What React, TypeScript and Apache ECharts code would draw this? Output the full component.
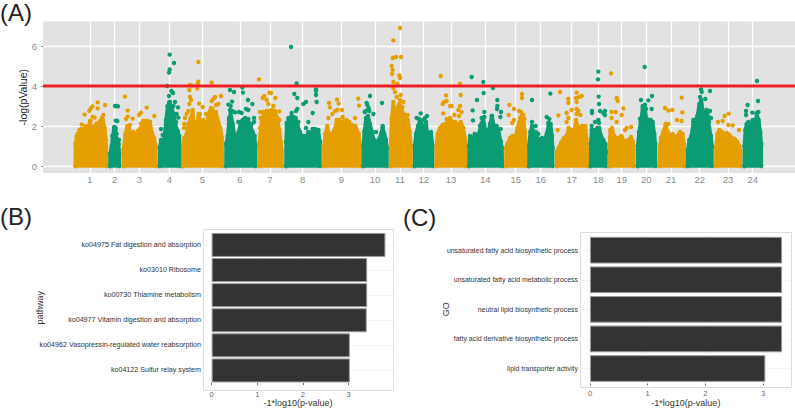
import React, { useEffect, useRef } from "react";
import * as echarts from "echarts";

type P = [number, number];

const ORANGE = "#E69F00";
const GREEN = "#0C9C74";

const chrTicks = [270, 344, 418, 508, 607, 720, 810, 908, 1024, 1125, 1200, 1271, 1353, 1456, 1547, 1622, 1715, 1795, 1865, 1939, 2013, 2099, 2184, 2258];
const chrNames = ["1", "2", "3", "4", "5", "6", "7", "8", "9", "10", "11", "12", "13", "14", "15", "16", "17", "18", "19", "20", "21", "22", "23", "24"];

const chr1Top: P[] = [[226,0],[226,1.1],[230,1.5],[238,1.6],[244,1.85],[250,1.6],[256,2.0],[262,1.75],[270,2.25],[276,1.8],[282,1.95],[290,2.1],[296,1.75],[303,2.2],[308,2.35],[314,1.9],[318,1.3],[320,0.6],[320,0]];
const chr1Dots: P[] = [[293,3.18],[315,3.05],[277,2.98],[272,2.87],[293,2.88],[268,2.75],[254,2.57],[310,2.55],[306,2.43],[277,2.47],[284,2.42],[245,2.08],[272,2.27],[300,2.25],[290,2.13],[238,1.8],[262,1.88],[233,1.6],[305,2.3]];
const chr2Top: P[] = [[330,0],[330,0.6],[335,1.0],[338,1.5],[342,1.9],[347,1.9],[349,1.4],[352,1.3],[356,1.1],[358,0.6],[358,0]];
const chr2Dots: P[] = [[345,3.0],[350,3.0],[354,2.98],[347,2.27],[352,2.25],[343,1.95],[345,1.8],[350,1.6],[337,1.5],[357,1.3],[352,1.1],[335,0.75]];
const chr3Top: P[] = [[370,0],[370,0.8],[376,1.6],[382,2.0],[388,1.85],[393,1.4],[400,1.7],[408,1.5],[414,1.75],[422,1.9],[430,2.2],[440,2.25],[450,2.2],[456,1.65],[462,1.4],[467,1.0],[468,0]];
const chr3Dots: P[] = [[375,3.47],[383,2.77],[423,2.67],[440,2.92],[383,2.47],[398,2.37],[463,2.5],[417,2.55],[378,2.35],[390,2.05],[430,2.27],[445,2.22],[423,2.13],[438,2.1]];
const chr4Top: P[] = [[479,0],[479,0.9],[483,1.3],[490,1.1],[494,1.6],[498,2.3],[503,3.0],[508,3.2],[515,2.85],[522,2.6],[526,2.1],[533,1.75],[538,1.5],[540,0.9],[540,0]];
const chr4Dots: P[] = [[509,5.57],[522,5.15],[509,4.83],[507,4.67],[502,4.0],[514,3.75],[519,3.65],[507,3.5],[510,3.2],[525,3.2],[520,3.0],[503,3.0],[534,2.93],[483,1.85],[488,1.55],[535,2.42],[530,2.6],[528,2.2]];
const chr5Top: P[] = [[549,0],[549,0.9],[553,1.4],[560,1.6],[565,2.1],[572,2.4],[578,2.7],[583,1.9],[590,2.1],[596,2.6],[603,1.9],[610,2.3],[618,2.0],[626,2.6],[633,2.9],[640,2.6],[648,2.7],[655,2.2],[661,1.9],[666,1.4],[667,0]];
const chr5Dots: P[] = [[595,5.2],[595,4.22],[593,4.12],[570,4.05],[635,4.17],[575,4.03],[568,3.8],[592,3.87],[570,3.45],[573,3.3],[568,3.1],[597,3.12],[608,2.95],[663,3.5],[645,3.45],[640,3.35],[635,3.25],[655,3.1],[648,3.05],[638,2.85],[630,2.75],[555,2.4],[560,2.6],[565,2.75],[578,2.8],[600,2.6],[618,2.6],[553,2.1],[552,1.9]];
const chr6Top: P[] = [[678,0],[678,1.1],[683,1.5],[687,2.3],[692,2.7],[698,2.1],[703,1.6],[710,1.35],[716,1.7],[722,2.2],[728,2.3],[736,2.4],[744,2.3],[752,2.0],[758,1.7],[764,1.5],[766,1.0],[766,0]];
const chr6Dots: P[] = [[690,3.8],[702,3.7],[727,3.92],[729,3.67],[696,3.22],[744,3.3],[757,3.1],[685,3.07],[692,3.0],[690,2.8],[697,2.75],[705,2.68],[717,2.7],[725,2.65],[738,2.85],[745,2.8],[687,2.4],[762,2.4],[715,2.2],[730,2.3],[745,2.35],[755,2.1],[762,2.2]];
const chr7Top: P[] = [[777,0],[777,1.1],[781,1.6],[787,2.4],[793,2.7],[800,2.75],[808,2.75],[815,2.8],[825,2.7],[832,2.4],[838,1.8],[843,1.2],[846,0.7],[846,0]];
const chr7Dots: P[] = [[777,4.33],[808,3.67],[813,3.65],[793,3.5],[826,3.4],[788,3.4],[800,3.3],[805,3.1],[820,3.0],[780,2.7],[790,2.7],[803,2.7],[838,2.73],[825,2.75],[782,2.4],[785,2.2],[838,2.3],[780,1.9]];
const chr8Top: P[] = [[858,0],[858,1.2],[860,2.0],[866,2.35],[873,2.45],[880,2.45],[887,2.4],[893,2.0],[900,1.7],[905,1.5],[912,1.5],[918,1.4],[925,1.7],[932,1.5],[938,1.85],[945,1.85],[955,1.8],[960,1.2],[960,0]];
const chr8Dots: P[] = [[873,5.95],[890,4.13],[883,3.6],[892,3.4],[918,3.2],[910,3.1],[875,2.65],[892,2.85],[888,2.75],[948,3.83],[948,3.55],[950,3.2],[938,2.65],[925,2.2],[948,3.75],[860,2.15],[865,2.4],[882,2.4],[895,2.2],[918,1.9]];
const chr9Top: P[] = [[972,0],[972,1.0],[976,1.6],[982,2.0],[988,1.5],[995,1.6],[1002,1.75],[1010,2.2],[1018,2.3],[1026,2.0],[1032,2.25],[1040,2.1],[1048,2.0],[1056,2.05],[1066,2.0],[1076,1.6],[1080,1.1],[1080,0]];
const chr9Dots: P[] = [[987,3.15],[1011,3.32],[1016,3.12],[990,2.93],[1005,2.75],[1012,2.8],[1026,2.8],[997,2.6],[985,2.4],[1075,3.37],[1077,3.02],[1065,2.4],[1010,2.3],[1028,2.45],[1040,2.3],[1048,2.2]];
const chr10Top: P[] = [[1090,0],[1090,1.0],[1093,1.7],[1098,2.4],[1104,2.5],[1110,2.1],[1116,1.7],[1122,1.3],[1130,1.2],[1136,1.3],[1143,1.6],[1148,1.95],[1153,1.6],[1158,1.3],[1161,0.9],[1161,0]];
const chr10Dots: P[] = [[1110,3.5],[1100,3.15],[1102,3.05],[1106,2.9],[1098,2.75],[1108,2.75],[1094,2.7],[1120,2.6],[1146,3.15],[1105,2.3],[1128,1.7],[1148,2.0]];
const chr11Top: P[] = [[1172,0],[1172,1.0],[1175,2.4],[1180,3.2],[1186,2.6],[1192,2.8],[1198,3.1],[1204,2.9],[1210,2.6],[1218,2.5],[1224,2.3],[1229,1.7],[1233,1.0],[1233,0]];
const chr11Dots: P[] = [[1200,6.9],[1180,6.28],[1178,5.4],[1188,5.45],[1203,5.45],[1175,5.0],[1178,4.8],[1198,4.53],[1200,4.4],[1176,4.6],[1180,4.2],[1192,4.1],[1180,3.9],[1185,3.7],[1202,3.55],[1190,3.45],[1200,3.3],[1210,3.2],[1195,2.95],[1207,2.95],[1223,2.55],[1217,2.45]];
const chr12Top: P[] = [[1244,0],[1244,1.0],[1248,1.6],[1254,2.0],[1260,2.3],[1266,1.9],[1272,1.85],[1278,2.2],[1283,1.5],[1288,1.5],[1293,1.7],[1298,1.0],[1298,0]];
const chr12Dots: P[] = [[1262,2.63],[1250,2.4],[1281,2.5],[1275,2.4],[1257,2.35],[1270,2.3],[1265,2.1]];
const chr13Top: P[] = [[1309,0],[1309,1.0],[1313,1.6],[1320,1.9],[1328,2.05],[1336,2.1],[1344,2.2],[1352,2.3],[1360,2.15],[1366,2.2],[1374,1.95],[1382,2.2],[1390,1.9],[1395,1.4],[1397,0.9],[1397,0]];
const chr13Dots: P[] = [[1322,4.5],[1380,4.12],[1382,3.55],[1338,3.53],[1332,3.2],[1340,3.25],[1328,3.1],[1350,3.0],[1355,3.0],[1380,3.0],[1330,2.63],[1375,2.8],[1385,2.7],[1363,2.55],[1377,2.5],[1350,2.4],[1340,2.35]];
const chr14Top: P[] = [[1407,0],[1407,1.0],[1410,1.5],[1416,1.2],[1424,1.6],[1430,1.2],[1436,1.6],[1444,2.1],[1450,2.4],[1456,1.8],[1462,1.5],[1470,2.1],[1476,2.5],[1482,2.0],[1490,2.0],[1497,1.6],[1503,1.2],[1506,0.9],[1507,0]];
const chr14Dots: P[] = [[1415,4.45],[1450,4.2],[1479,3.9],[1451,3.65],[1431,3.3],[1492,3.3],[1418,2.78],[1492,3.0],[1491,2.85],[1453,2.7],[1503,2.7],[1501,2.45],[1419,2.28],[1445,2.4],[1453,2.45],[1475,2.5],[1502,1.85],[1440,2.0]];
const chr15Top: P[] = [[1518,0],[1518,0.9],[1522,1.1],[1530,1.4],[1538,1.5],[1546,1.4],[1552,1.9],[1558,2.2],[1565,2.5],[1571,2.2],[1575,1.7],[1578,1.0],[1578,0]];
const chr15Dots: P[] = [[1566,3.6],[1566,3.4],[1528,3.05],[1542,2.85],[1557,2.75],[1563,2.7],[1526,2.55],[1570,2.55],[1542,2.3],[1560,2.4],[1573,2.35],[1537,2.15]];
const chr16Top: P[] = [[1587,0],[1587,1.0],[1591,1.7],[1596,2.0],[1602,1.6],[1608,1.7],[1614,1.35],[1620,1.2],[1626,1.4],[1634,1.3],[1640,1.6],[1646,2.1],[1652,2.1],[1656,1.5],[1658,0.9],[1658,0]];
const chr16Dots: P[] = [[1596,3.3],[1651,3.62],[1640,2.45],[1648,2.35],[1596,2.2],[1607,2.0],[1645,2.15],[1615,1.6]];
const chr17Top: P[] = [[1670,0],[1670,0.7],[1676,0.9],[1684,1.2],[1692,1.4],[1700,1.5],[1706,1.9],[1714,1.8],[1722,1.7],[1728,2.3],[1733,2.0],[1740,1.8],[1747,2.0],[1756,2.0],[1760,1.3],[1762,0.7],[1762,0]];
const chr17Dots: P[] = [[1680,3.7],[1730,3.67],[1705,3.35],[1745,3.5],[1737,3.45],[1728,3.4],[1730,3.2],[1705,3.15],[1715,2.8],[1730,2.85],[1735,2.75],[1675,2.53],[1700,2.65],[1705,2.4],[1741,2.55],[1673,1.8],[1700,2.2],[1730,2.6]];
const chr18Top: P[] = [[1772,0],[1772,1.1],[1775,1.8],[1781,1.8],[1786,1.5],[1792,1.9],[1798,1.9],[1803,1.5],[1810,1.3],[1816,1.1],[1818,0.7],[1818,0]];
const chr18Dots: P[] = [[1795,4.72],[1794,4.33],[1796,3.47],[1797,3.1],[1776,2.75],[1776,2.65],[1800,2.75],[1815,2.75],[1815,2.55],[1810,2.65],[1795,2.3],[1785,2.2],[1797,2.15],[1775,2.0]];
const chr19Top: P[] = [[1828,0],[1828,1.0],[1831,1.8],[1836,1.9],[1842,1.5],[1850,1.4],[1858,1.4],[1864,1.5],[1870,1.3],[1878,1.2],[1885,1.3],[1893,1.45],[1899,1.2],[1901,0.8],[1901,0]];
const chr19Dots: P[] = [[1833,4.63],[1850,3.4],[1853,3.25],[1870,2.88],[1835,2.7],[1847,2.7],[1865,2.55],[1835,2.4],[1850,2.2],[1880,1.9],[1893,1.95],[1875,1.8]];
const chr20Top: P[] = [[1913,0],[1913,1.0],[1917,1.7],[1922,2.2],[1928,2.9],[1934,3.0],[1939,2.4],[1945,2.1],[1952,2.3],[1958,2.2],[1963,1.6],[1966,1.1],[1967,0]];
const chr20Dots: P[] = [[1934,4.95],[1956,3.5],[1945,3.28],[1923,3.3],[1935,3.07],[1928,3.0],[1955,2.85],[1938,2.85],[1920,2.35],[1932,2.6],[1950,2.3]];
const chr21Top: P[] = [[1979,0],[1979,0.9],[1983,1.4],[1990,1.7],[1997,2.1],[2003,1.7],[2010,1.5],[2018,1.6],[2024,1.4],[2032,1.5],[2040,1.7],[2048,1.6],[2052,1.1],[2053,0]];
const chr21Dots: P[] = [[2045,3.42],[1995,2.9],[2005,2.77],[2017,2.8],[2047,2.68],[2045,2.25],[2031,2.3],[2005,2.1]];
const chr22Top: P[] = [[2063,0],[2063,0.8],[2068,1.3],[2074,1.5],[2080,2.2],[2086,2.0],[2092,2.5],[2098,3.1],[2104,3.3],[2110,2.6],[2116,2.4],[2122,2.6],[2128,1.9],[2133,1.5],[2136,1.0],[2136,0]];
const chr22Dots: P[] = [[2103,3.83],[2105,3.7],[2130,3.75],[2100,3.45],[2116,3.35],[2103,3.15],[2097,2.9],[2120,2.8],[2130,2.75],[2133,2.4],[2100,2.6],[2115,2.7],[2123,2.5],[2090,2.4],[2080,2.3],[2127,2.2]];
const chr23Top: P[] = [[2148,0],[2148,0.9],[2152,1.6],[2158,1.8],[2166,1.7],[2172,1.5],[2180,1.65],[2188,1.55],[2196,1.4],[2204,1.35],[2212,1.2],[2218,1.0],[2222,0.7],[2222,0]];
const chr23Dots: P[] = [[2186,2.62],[2174,2.5],[2154,2.2],[2168,2.25],[2198,2.03],[2217,1.8],[2185,2.05]];
const chr24Top: P[] = [[2233,0],[2233,1.0],[2236,1.8],[2240,2.1],[2246,1.6],[2252,2.0],[2258,2.3],[2264,1.9],[2270,2.6],[2276,2.3],[2281,1.7],[2284,1.1],[2284,0]];
const chr24Dots: P[] = [[2271,4.25],[2274,3.25],[2243,3.05],[2238,2.75],[2257,2.67],[2275,2.7],[2238,2.55],[2270,2.65],[2245,2.2],[2260,2.3],[2275,2.2]];

const massTops = [chr1Top, chr2Top, chr3Top, chr4Top, chr5Top, chr6Top, chr7Top, chr8Top, chr9Top, chr10Top, chr11Top, chr12Top, chr13Top, chr14Top, chr15Top, chr16Top, chr17Top, chr18Top, chr19Top, chr20Top, chr21Top, chr22Top, chr23Top, chr24Top];
const topDots = [chr1Dots, chr2Dots, chr3Dots, chr4Dots, chr5Dots, chr6Dots, chr7Dots, chr8Dots, chr9Dots, chr10Dots, chr11Dots, chr12Dots, chr13Dots, chr14Dots, chr15Dots, chr16Dots, chr17Dots, chr18Dots, chr19Dots, chr20Dots, chr21Dots, chr22Dots, chr23Dots, chr24Dots];

const yTicksA = [0, 2, 4, 6];
const threshold = 4;

const pathwayNames = ["ko04975 Fat digestion and absorption", "ko03010 Ribosome", "ko00730 Thiamine metabolism", "ko04977 Vitamin digestion and absorption", "ko04962 Vasopressin-regulated water reabsorption", "ko04122 Sulfur relay system"];
const pathwayValues = [3.81, 3.41, 3.41, 3.4, 3.03, 3.03];
const goNames = ["unsaturated fatty acid biosynthetic process", "unsaturated fatty acid metabolic process", "neutral lipid biosynthetic process", "fatty acid derivative biosynthetic process", "lipid transporter activity"];
const goValues = [3.33, 3.33, 3.33, 3.33, 3.04];
const barTicks = [0, 1, 2, 3];

const FONT = "Liberation Sans";

function barAxes(names: string[], title: string, catName: string, gridIndex: number, min: number, max: number, nameGapCat: number, nameGapVal: number, labelSize: number, tickMargin: number) {
  return {
    x: {
      type: "value", gridIndex, min, max,
      axisLine: { show: false },
      splitLine: { show: false },
      axisTick: { show: true, customValues: barTicks, length: 2, lineStyle: { color: "#666", width: 1 } },
      axisLabel: { customValues: barTicks, color: "#666", fontSize: 7.5, fontFamily: FONT, margin: tickMargin },
      name: title, nameLocation: "middle", nameGap: nameGapVal, nameMoveOverlap: false,
      nameTextStyle: { color: "#333", fontSize: 9, fontFamily: FONT },
    },
    y: {
      type: "category", gridIndex, data: names, inverse: true,
      axisLine: { show: false },
      splitLine: { show: false },
      axisTick: { show: true, alignWithLabel: true, length: 2, lineStyle: { color: "#444", width: 1 } },
      axisLabel: { color: "#333", fontSize: labelSize, fontFamily: FONT, margin: 2 },
      name: catName, nameLocation: "middle", nameGap: nameGapCat, nameMoveOverlap: false,
      nameTextStyle: { color: "#333", fontSize: 9, fontFamily: FONT },
    },
  };
}

function barSeries(names: string[], values: number[], axis: number, barWidth: number) {
  return {
    type: "bar", xAxisIndex: axis, yAxisIndex: axis, data: values, barWidth, z: 2,
    itemStyle: { color: "#333333", borderColor: "#9a9a9a", borderWidth: 1 },
    markLine: {
      silent: true, symbol: "none", z: 1, label: { show: false },
      lineStyle: { color: "#f4f4f4", width: 1, type: "solid" },
      data: [...barTicks.map((t) => ({ xAxis: t })), ...names.map((n) => ({ yAxis: n }))],
    },
  };
}

export default function App() {
  const ref = useRef<HTMLDivElement>(null);
  useEffect(() => {
    const chart = echarts.init(ref.current!, undefined, { renderer: "svg" });
    const massSeries = massTops.map((top, i) => {
      const color = i % 2 === 0 ? ORANGE : GREEN;
      return {
        type: "line", xAxisIndex: 0, yAxisIndex: 0, data: [...top, top[0]], z: 2, clip: false,
        symbol: "circle", symbolSize: 4.4, showSymbol: true, showAllSymbol: true,
        itemStyle: { color },
        lineStyle: { color, width: 3.5, join: "round", cap: "round" },
        areaStyle: { color, opacity: 1 },
        ...(i === 0 ? {
          markLine: {
            silent: true, symbol: "none", z: 1, label: { show: false },
            lineStyle: { color: "#ffffff", width: 1.3, type: "solid" },
            data: [...chrTicks.map((t) => ({ xAxis: t })), ...yTicksA.map((t) => ({ yAxis: t }))],
          },
        } : {}),
      };
    });
    const dotSeries = topDots.map((dots, i) => ({
      type: "scatter", xAxisIndex: 0, yAxisIndex: 0, data: dots, z: 3,
      symbol: "circle", symbolSize: 4.4,
      itemStyle: { color: i % 2 === 0 ? ORANGE : GREEN, opacity: 1 },
    }));
    const b = barAxes(pathwayNames, "-1*log10(p-value)", "pathway", 1, -0.19, 3.976, 159, 15, 7.15, 7);
    const c = barAxes(goNames, "-1*log10(p-value)", "GO", 2, -0.173, 3.497, 130, 14.7, 6.95, 6);
    chart.setOption({
      animation: false,
      backgroundColor: "#ffffff",
      textStyle: { fontFamily: FONT },
      grid: [
        { left: 43, top: 21.5, width: 752, height: 151.5, show: true, backgroundColor: "#E2E2E2", borderWidth: 0 },
        { left: 203, top: 232.4, width: 190, height: 155.6 },
        { left: 580, top: 235.4, width: 211.7, height: 149.6 },
      ],
      xAxis: [
        {
          type: "value", gridIndex: 0, min: 129, max: 2385,
          axisLine: { show: false }, splitLine: { show: false },
          axisTick: { show: true, customValues: chrTicks, length: 2, lineStyle: { color: "#8a8a8a", width: 1 } },
          axisLabel: {
            customValues: chrTicks, color: "#8a8a8a", fontSize: 9.5, fontFamily: FONT, margin: 1,
            formatter: (v: number) => chrNames[chrTicks.indexOf(v)] ?? "",
          },
        },
        b.x, c.x,
      ],
      yAxis: [
        {
          type: "value", gridIndex: 0, min: -0.35, max: 7.225,
          axisLine: { show: false }, splitLine: { show: false },
          axisTick: { show: true, customValues: yTicksA, length: 2, lineStyle: { color: "#8a8a8a", width: 1 } },
          axisLabel: { customValues: yTicksA, color: "#8a8a8a", fontSize: 9.5, fontFamily: FONT, margin: 6 },
          name: "-log(pValue)", nameLocation: "middle", nameGap: 15, nameMoveOverlap: false,
          nameTextStyle: { color: "#222", fontSize: 10.5, fontFamily: FONT },
        },
        b.y, c.y,
      ],
      graphic: [
        { type: "text", left: 0, top: 0, style: { text: "(A)", fontSize: 24, fontFamily: FONT, fill: "#222" } },
        { type: "text", left: 0, top: 204, style: { text: "(B)", fontSize: 24, fontFamily: FONT, fill: "#222" } },
        { type: "text", left: 403, top: 205, style: { text: "(C)", fontSize: 24, fontFamily: FONT, fill: "#222" } },
        { type: "rect", shape: { x: 203.5, y: 229.5, width: 190, height: 161 }, style: { fill: "transparent", stroke: "#dddddd", lineWidth: 1 } },
        { type: "rect", shape: { x: 580.5, y: 232.5, width: 211, height: 155 }, style: { fill: "transparent", stroke: "#dddddd", lineWidth: 1 } },
      ],
      series: [
        ...massSeries,
        ...dotSeries,
        {
          type: "line", xAxisIndex: 0, yAxisIndex: 0, z: 5, symbol: "none",
          data: [[129, threshold], [2385, threshold]],
          lineStyle: { color: "#EE1C25", width: 3 },
        },
        barSeries(pathwayNames, pathwayValues, 1, 24),
        barSeries(goNames, goValues, 2, 26.7),
      ],
    });
    return () => chart.dispose();
  }, []);
  return <div ref={ref} style={{ position: "fixed", left: 0, top: 0, width: 795, height: 408 }} />;
}
